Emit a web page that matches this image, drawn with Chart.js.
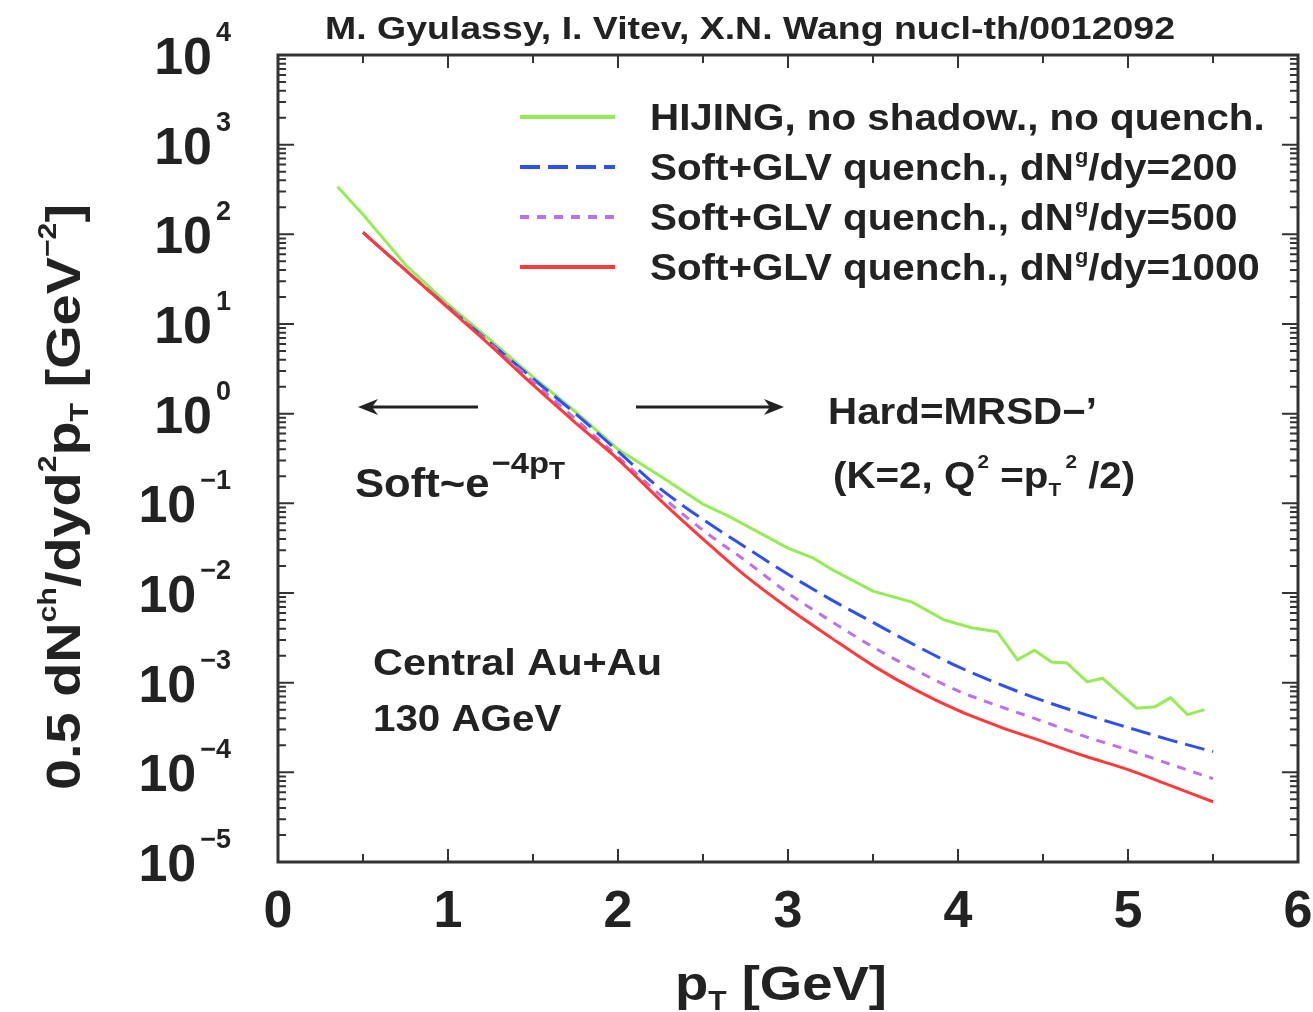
<!DOCTYPE html>
<html>
<head>
<meta charset="utf-8">
<script src="https://cdn.jsdelivr.net/npm/chart.js@4.4.0/dist/chart.umd.min.js"></script>
<style>
html, body { margin: 0; padding: 0; background: #fff; }
#wrap { width: 1313px; height: 1012px; }
</style>
</head>
<body>
<div id="wrap"><canvas id="mycanvas" width="1313" height="1012"></canvas></div>
<script>
// pT grid of the quenched curves (GeV)
var pt = [0.5, 0.75, 1, 1.25, 1.5, 1.75, 2, 2.25, 2.5, 2.75, 3, 3.25, 3.5, 3.75, 4, 4.25, 4.5, 4.75, 5, 5.25, 5.5];

// HIJING, no shadowing, no quenching (own pT points, it is noisy)
var hijingPt = [0.35, 0.5, 0.75, 1, 1.25, 1.5, 1.75, 2, 2.25, 2.5, 2.65, 3, 3.15, 3.26, 3.5, 3.73, 3.92, 4.08, 4.23, 4.35, 4.45, 4.55, 4.64, 4.76, 4.85, 5.05, 5.16, 5.25, 5.35, 5.45];
var hijing = [339, 166, 45.7, 16.6, 6.6, 2.57, 1.05, 0.40, 0.20, 0.098, 0.072, 0.0316, 0.0245, 0.0182, 0.0105, 0.0079, 0.0050, 0.0041, 0.0037, 0.0018, 0.0023, 0.0017, 0.00166, 0.00102, 0.00112, 0.00052, 0.00054, 0.00068, 0.00044, 0.0005];

// Soft+GLV quench, dNg/dy = 200, 500, 1000
var glv200 = [105, 39.8, 15.5, 6.17, 2.45, 1.0, 0.38, 0.145, 0.066, 0.0324, 0.0162, 0.0085, 0.0047, 0.0026, 0.00151, 0.00095, 0.00063, 0.00044, 0.000316, 0.000229, 0.00017];
var glv500 = [105, 39.8, 15.5, 6.0, 2.29, 0.87, 0.33, 0.123, 0.050, 0.0229, 0.0100, 0.0049, 0.0025, 0.00138, 0.00081, 0.00054, 0.00037, 0.00025, 0.000178, 0.000123, 0.000085];
var glv1000 = [105, 39.8, 15.1, 5.75, 2.09, 0.79, 0.31, 0.108, 0.040, 0.0155, 0.0068, 0.0032, 0.00155, 0.00083, 0.00049, 0.00032, 0.00022, 0.000151, 0.000107, 0.000071, 0.000047];

var seriesLabels = [
  [["HIJING, no shadow., no quench."]],
  [["Soft+GLV quench., dN"], ["g", "sup"], ["/dy=200"]],
  [["Soft+GLV quench., dN"], ["g", "sup"], ["/dy=500"]],
  [["Soft+GLV quench., dN"], ["g", "sup"], ["/dy=1000"]]
];

var xTicks = [0, 1, 2, 3, 4, 5, 6];
var yExponents = [4, 3, 2, 1, 0, -1, -2, -3, -4, -5];

var FONT = '"Liberation Sans", Arial, Helvetica, sans-serif';
var INK = '#222';
var WIDE = 1.09; // reference lettering runs a bit wider than Liberation Sans

function pts(xs, ys) {
  var out = [];
  for (var i = 0; i < xs.length; i++) out.push({x: xs[i], y: ys[i]});
  return out;
}

// parts: [{t, s, dy, dx}] drawn left to right from x, y = main baseline
function richWidth(ctx, parts) {
  var w = 0;
  parts.forEach(function(p) {
    ctx.font = 'bold ' + p.s + 'px ' + FONT;
    p.w = ctx.measureText(p.t).width + (p.dx || 0);
    w += p.w;
  });
  return w;
}
function drawRich(ctx, parts, x, y, align, fitW, scaleX) {
  var w = richWidth(ctx, parts);
  var sx = fitW ? fitW / w : (scaleX || 1);
  var x0 = x;
  if (align === 'center') x0 = x - w * sx / 2;
  if (align === 'right') x0 = x - w * sx;
  ctx.save();
  ctx.translate(x0, y);
  ctx.scale(sx, 1);
  ctx.fillStyle = INK;
  ctx.textBaseline = 'alphabetic';
  ctx.textAlign = 'left';
  var cx = 0;
  parts.forEach(function(p) {
    ctx.font = 'bold ' + p.s + 'px ' + FONT;
    ctx.fillText(p.t, cx + (p.dx || 0), p.dy || 0);
    cx += p.w;
  });
  ctx.restore();
}

function arrow(ctx, x1, x2, y) {
  var dir = x2 > x1 ? 1 : -1;
  ctx.save();
  ctx.strokeStyle = INK;
  ctx.fillStyle = INK;
  ctx.lineWidth = 3;
  ctx.beginPath();
  ctx.moveTo(x1, y);
  ctx.lineTo(x2 - dir * 12, y);
  ctx.stroke();
  ctx.beginPath();
  ctx.moveTo(x2, y);
  ctx.lineTo(x2 - dir * 20, y - 8);
  ctx.lineTo(x2 - dir * 14, y);
  ctx.lineTo(x2 - dir * 20, y + 8);
  ctx.closePath();
  ctx.fill();
  ctx.restore();
}

var decor = {
  id: 'decor',
  afterDraw: function(chart) {
    var ctx = chart.ctx;
    var xs = chart.scales.x, ys = chart.scales.y;
    var a = chart.chartArea;

    // frame
    ctx.save();
    ctx.strokeStyle = '#333';
    ctx.lineWidth = 3;
    ctx.strokeRect(a.left, a.top, a.right - a.left, a.bottom - a.top);
    ctx.lineWidth = 2;
    ctx.beginPath();
    // x ticks, inward on bottom and top
    for (var v = 0; v <= 6.001; v += 0.5) {
      var px = xs.getPixelForValue(v);
      var major = Math.abs(v - Math.round(v)) < 1e-6;
      var len = major ? 13 : 8;
      ctx.moveTo(px, a.bottom); ctx.lineTo(px, a.bottom - len);
      ctx.moveTo(px, a.top); ctx.lineTo(px, a.top + len);
    }
    // y ticks (log), inward on left and right
    yExponents.forEach(function(e) {
      for (var m = 1; m <= 9; m++) {
        if (e === 4 && m > 1) continue;
        var py = ys.getPixelForValue(m * Math.pow(10, e));
        var len = m === 1 ? 16 : 8;
        ctx.moveTo(a.left, py); ctx.lineTo(a.left + len, py);
        ctx.moveTo(a.right, py); ctx.lineTo(a.right - len, py);
      }
    });
    ctx.stroke();
    ctx.restore();

    // x tick labels
    xTicks.forEach(function(v) {
      drawRich(ctx, [{t: String(v), s: 52}], xs.getPixelForValue(v), 927, 'center');
    });
    // y tick labels
    yExponents.forEach(function(e) {
      var py = ys.getPixelForValue(Math.pow(10, e));
      var sup = e < 0 ? '\u2212' + (-e) : String(e);
      drawRich(ctx, [{t: '10', s: 52}, {t: sup, s: 27, dy: -33, dx: 4}], 231, py + 19, 'right');
    });

    // axis titles
    drawRich(ctx, [{t: 'p', s: 49}, {t: 'T', s: 27, dy: 10}, {t: ' [GeV]', s: 49}], 781, 1000, 'center', 212);
    ctx.save();
    ctx.translate(62, 497);
    ctx.rotate(-Math.PI / 2);
    drawRich(ctx, [
      {t: '0.5 dN', s: 48}, {t: 'ch', s: 26, dy: -24},
      {t: '/dyd', s: 48}, {t: '2', s: 26, dy: -24},
      {t: 'p', s: 48}, {t: 'T', s: 26, dy: 8},
      {t: ' [GeV', s: 48}, {t: '\u22122', s: 26, dy: -24}, {t: ']', s: 48}
    ], 0, 18, 'center', 586);
    ctx.restore();

    // header
    drawRich(ctx, [{t: 'M. Gyulassy, I. Vitev, X.N. Wang nucl-th/0012092', s: 31}], 325, 39, 'left', 850);

    // legend
    chart.data.datasets.forEach(function(ds, i) {
      var ly = 117 + i * 50;
      ctx.save();
      ctx.strokeStyle = ds.borderColor;
      ctx.lineWidth = 4;
      ctx.setLineDash(ds.borderDash || []);
      ctx.beginPath();
      ctx.moveTo(520, ly); ctx.lineTo(615, ly);
      ctx.stroke();
      ctx.restore();
      var parts = seriesLabels[i].map(function(p) {
        return p[1] === 'sup' ? {t: p[0], s: 20, dy: -17, dx: 1} : {t: p[0], s: 37};
      });
      drawRich(ctx, parts, 650, ly + 13, 'left', null, WIDE);
    });

    // annotations
    arrow(ctx, 478, 358, 407);
    arrow(ctx, 636, 784, 407);
    drawRich(ctx, [{t: 'Hard=MRSD\u2212\u2019', s: 37}], 828, 424, 'left', null, WIDE);
    drawRich(ctx, [
      {t: '(K=2, Q', s: 37}, {t: '2', s: 19, dy: -20, dx: 2},
      {t: ' =p', s: 37}, {t: 'T', s: 19, dy: 8},
      {t: '2', s: 19, dy: -20, dx: 4}, {t: ' /2)', s: 37}
    ], 833, 488, 'left', null, WIDE);
    drawRich(ctx, [
      {t: 'Soft~e', s: 40}, {t: '\u22124p', s: 30, dy: -24, dx: 2}, {t: 'T', s: 24, dy: -18}
    ], 355, 497, 'left', 210);
    drawRich(ctx, [{t: 'Central Au+Au', s: 37}], 373, 675, 'left', 289);
    drawRich(ctx, [{t: '130 AGeV', s: 37}], 373, 731, 'left', null, WIDE);
  }
};

var chartdata = {
  datasets: [
    {
      label: 'HIJING, no shadow., no quench.',
      data: pts(hijingPt, hijing),
      borderColor: '#96ec55',
      borderWidth: 3,
      tension: 0,
      order: 3
    },
    {
      label: 'Soft+GLV quench., dNg/dy=200',
      data: pts(pt, glv200),
      borderColor: '#3050ee',
      borderDash: [20, 8],
      borderWidth: 3,
      cubicInterpolationMode: 'monotone',
      order: 2
    },
    {
      label: 'Soft+GLV quench., dNg/dy=500',
      data: pts(pt, glv500),
      borderColor: '#bb70ee',
      borderDash: [9, 8],
      borderWidth: 3,
      cubicInterpolationMode: 'monotone',
      order: 1
    },
    {
      label: 'Soft+GLV quench., dNg/dy=1000',
      data: pts(pt, glv1000),
      borderColor: '#ff3a3a',
      borderWidth: 3,
      cubicInterpolationMode: 'monotone',
      order: 0
    }
  ]
};

var ctx = document.getElementById('mycanvas');
var LineGraph = new Chart(ctx, {
  type: 'line',
  data: chartdata,
  options: {
    responsive: false,
    animation: false,
    events: [],
    layout: { padding: { left: 278, top: 55, right: 15, bottom: 150 } },
    elements: { point: { radius: 0 } },
    plugins: { legend: { display: false }, tooltip: { enabled: false } },
    scales: {
      x: { type: 'linear', min: 0, max: 6, display: false },
      y: { type: 'logarithmic', min: 1e-5, max: 1e4, display: false }
    }
  },
  plugins: [decor]
});
</script>
</body>
</html>
